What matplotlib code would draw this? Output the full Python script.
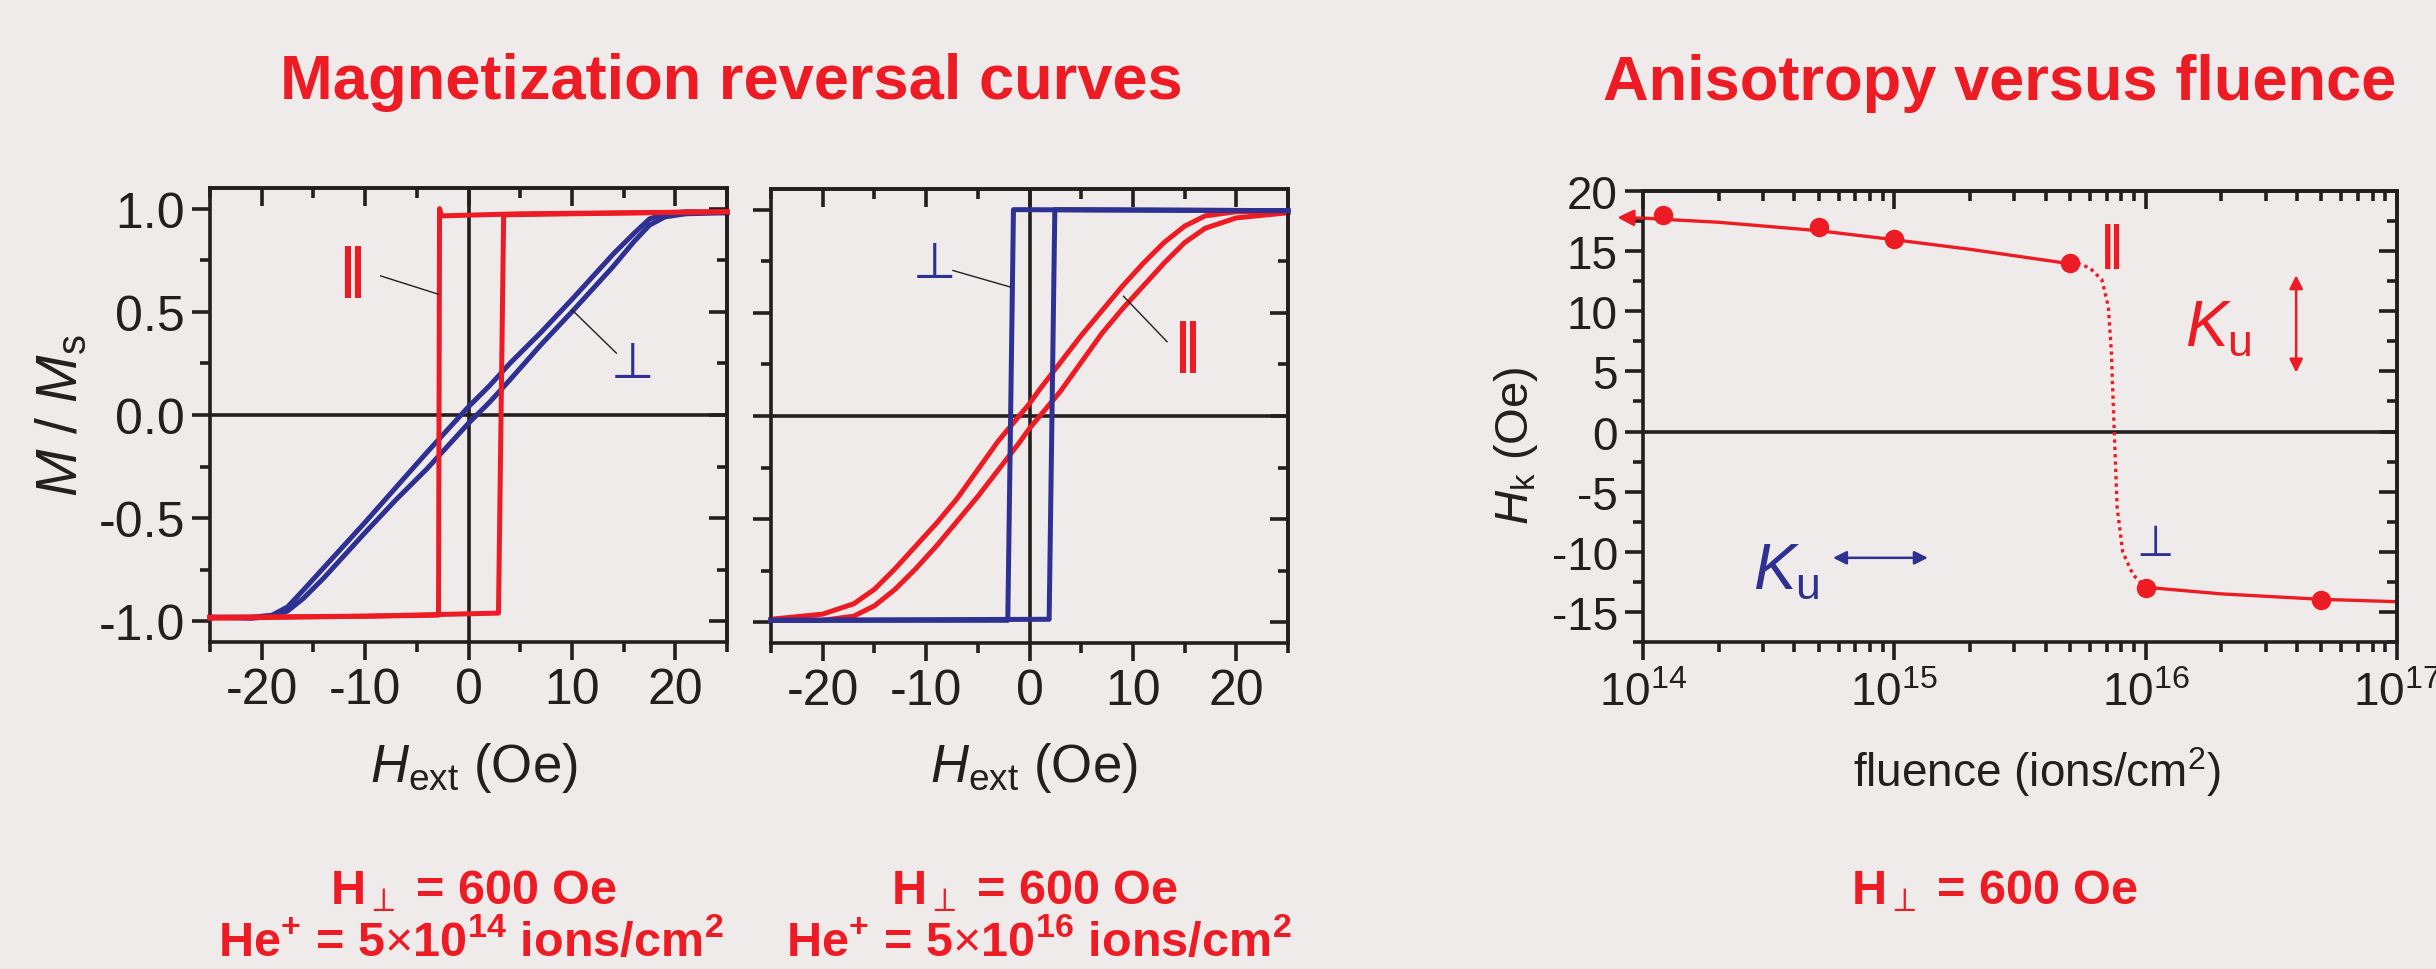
import matplotlib
matplotlib.use('Agg')
import matplotlib.pyplot as plt
from matplotlib import font_manager
from matplotlib.ticker import FixedLocator, LogLocator, NullFormatter

# pick the narrow face if it is installed
names = {f.name for f in font_manager.fontManager.ttflist}
narrow = 'Liberation Sans Narrow' if 'Liberation Sans Narrow' in names else 'Liberation Sans'

plt.rcParams['font.family'] = [narrow, 'DejaVu Sans']
plt.rcParams['mathtext.fontset'] = 'custom'
plt.rcParams['mathtext.rm'] = narrow
plt.rcParams['mathtext.it'] = narrow + ':italic'
plt.rcParams['mathtext.bf'] = narrow + ':bold'
plt.rcParams['axes.unicode_minus'] = False

BG = '#efebea'
RED = '#ed1c24'
BLUE = '#2e3192'
INK = '#231f20'

# --- panel 1: He+ = 5e14, perpendicular (blue) is the slanted loop
p1_perp_down_h = [25, 21, 19, 17.5, 16, 14, 12, 10, 7, 4, 2, 0, -2, -4, -7, -10, -12, -14, -16, -17.5, -19, -21, -25]
p1_perp_down_m = [0.98, 0.985, 0.975, 0.95, 0.88, 0.78, 0.67, 0.56, 0.40, 0.25, 0.14, 0.04, -0.07, -0.18, -0.35,
                  -0.52, -0.63, -0.74, -0.85, -0.93, -0.97, -0.98, -0.98]
p1_perp_up_h = [-25, -21, -19, -17.5, -16, -14, -12, -10, -7, -4, -2, 0, 2, 4, 7, 10, 12, 14, 16, 17.5, 19, 21, 25]
p1_perp_up_m = [-0.98, -0.985, -0.975, -0.95, -0.89, -0.79, -0.68, -0.57, -0.41, -0.26, -0.15, -0.04, 0.06, 0.17,
                0.34, 0.50, 0.61, 0.72, 0.84, 0.92, 0.96, 0.975, 0.98]
p1_par_down_h = [25, 5, -2.6, -2.8, -2.9, -10, -25]
p1_par_down_m = [0.985, 0.975, 0.965, 1.0, -0.97, -0.975, -0.98]
p1_par_up_h = [-25, -10, 2.9, 3.4, 10, 25]
p1_par_up_m = [-0.985, -0.975, -0.96, 0.97, 0.975, 0.985]

# --- panel 2: He+ = 5e16, parallel (red) is the slanted loop
p2_par_down_h = [25, 20, 17, 15, 13, 11, 9, 7, 5, 3, 1, 0, -1, -3, -5, -7, -9, -11, -13, -15, -17, -20, -25]
p2_par_down_m = [0.99, 0.99, 0.97, 0.92, 0.84, 0.74, 0.63, 0.51, 0.39, 0.26, 0.13, 0.06, 0.0, -0.12, -0.26,
                 -0.40, -0.52, -0.63, -0.74, -0.84, -0.91, -0.96, -0.985]
p2_par_up_h = [-25, -20, -17, -15, -13, -11, -9, -7, -5, -3, -1, 0, 1, 3, 5, 7, 9, 11, 13, 15, 17, 20, 25]
p2_par_up_m = [-0.99, -0.99, -0.97, -0.92, -0.84, -0.74, -0.63, -0.51, -0.39, -0.26, -0.13, -0.06, 0.0, 0.12,
               0.26, 0.40, 0.52, 0.63, 0.74, 0.84, 0.91, 0.96, 0.985]
p2_perp_down_h = [25, -1.55, -2.1, -25]
p2_perp_down_m = [0.995, 1.0, -0.99, -0.99]
p2_perp_up_h = [-25, 1.9, 2.45, 25]
p2_perp_up_m = [-0.99, -0.985, 1.0, 0.995]

# --- panel 3: anisotropy field vs fluence
fluence = [1.2e14, 5e14, 1e15, 5e15, 1e16, 5e16]
hk = [18, 17, 16, 14, -13, -14]
fit_a_x = [1e14, 1.2e14, 2e14, 5e14, 1e15, 2e15, 5e15]
fit_a_y = [17.75, 17.65, 17.4, 16.7, 15.95, 15.15, 13.95]
fit_b_x = [5e15, 5.5e15, 6.0e15, 6.7e15, 7.1e15, 7.3e15, 7.5e15, 7.7e15, 8.1e15, 8.9e15, 1e16]
fit_b_y = [14, 13.9, 13.6, 12.6, 10.4, 6.7, 0, -6.3, -10.0, -11.9, -13]
fit_c_x = [1e16, 2e16, 5e16, 1e17]
fit_c_y = [-12.95, -13.5, -13.95, -14.15]

W, H = 2436, 970
fig = plt.figure(figsize=(W / 100, H / 100), dpi=100, facecolor=BG)


def px_axes(l, t, r, b):
    return fig.add_axes([l / W, 1 - b / H, (r - l) / W, (b - t) / H])


def frame(ax, xmaj, xmin, ymaj, ymin, size, log=False):
    ax.set_facecolor(BG)
    for s in ax.spines.values():
        s.set_linewidth(2.6)
        s.set_color(INK)
    if not log:
        ax.xaxis.set_major_locator(FixedLocator(xmaj))
        ax.xaxis.set_minor_locator(FixedLocator(xmin))
    ax.yaxis.set_major_locator(FixedLocator(ymaj))
    ax.yaxis.set_minor_locator(FixedLocator(ymin))
    ax.tick_params(which='major', direction='out', length=13, width=2.6, color=INK,
                   labelsize=size, labelcolor=INK, pad=5)
    ax.tick_params(which='minor', direction='out', length=7, width=2.6, color=INK)
    top = ax.secondary_xaxis('top')
    right = ax.secondary_yaxis('right')
    for sec, axis in ((top, top.xaxis), (right, right.yaxis)):
        for s in sec.spines.values():
            s.set_linewidth(2.6)
            s.set_color(INK)
        sec.tick_params(which='major', direction='in', length=13, width=2.6, color=INK)
        sec.tick_params(which='minor', direction='in', length=7, width=2.6, color=INK)
        axis.set_major_formatter(NullFormatter())
        axis.set_minor_formatter(NullFormatter())
    if not log:
        top.xaxis.set_major_locator(FixedLocator(xmaj))
        top.xaxis.set_minor_locator(FixedLocator(xmin))
    else:
        top.xaxis.set_major_locator(LogLocator(base=10))
        top.xaxis.set_minor_locator(LogLocator(base=10, subs=range(2, 10)))
    right.yaxis.set_major_locator(FixedLocator(ymaj))
    right.yaxis.set_minor_locator(FixedLocator(ymin))


hmaj = [-20, -10, 0, 10, 20]
hmin = [-25, -15, -5, 5, 15, 25]
mmaj = [-1.0, -0.5, 0.0, 0.5, 1.0]
mmin = [-0.75, -0.25, 0.25, 0.75]

ax1 = px_axes(210, 189, 727, 643)
ax2 = px_axes(771, 190, 1288, 644)
ax3 = px_axes(1643, 192, 2397, 643)

for ax in (ax1, ax2):
    ax.set_xlim(-25, 25)
    ax.set_ylim(-1.1, 1.1)
    frame(ax, hmaj, hmin, mmaj, mmin, 36)
    ax.axhline(0, color=INK, lw=2.6, zorder=1)
    ax.axvline(0, color=INK, lw=2.6, zorder=1)
ax1.set_yticklabels(['-1.0', '-0.5', '0.0', '0.5', '1.0'])
ax2.set_yticklabels([])

LW = 3.6
# panel 1 curves (red drawn over blue)
ax1.plot(p1_perp_down_h, p1_perp_down_m, color=BLUE, lw=LW, zorder=2, clip_on=False)
ax1.plot(p1_perp_up_h, p1_perp_up_m, color=BLUE, lw=LW, zorder=2, clip_on=False)
ax1.plot(p1_par_down_h, p1_par_down_m, color=RED, lw=LW, zorder=3, clip_on=False)
ax1.plot(p1_par_up_h, p1_par_up_m, color=RED, lw=LW, zorder=3, clip_on=False)
ax1.plot([-8.5, -2.9], [0.674, 0.585], color=INK, lw=1, zorder=4)
ax1.plot([10.0, 14.3], [0.51, 0.30], color=INK, lw=1, zorder=4)
ax1.text(-11.3, 0.70, '\u2225', color=RED, fontsize=38, family='DejaVu Sans', fontweight='bold',
         ha='center', va='center')
ax1.text(15.9, 0.25, '\u22a5', color=BLUE, fontsize=36, family='DejaVu Sans', ha='center', va='center')

# panel 2 curves (blue drawn over red)
ax2.plot(p2_par_down_h, p2_par_down_m, color=RED, lw=LW, zorder=2, clip_on=False)
ax2.plot(p2_par_up_h, p2_par_up_m, color=RED, lw=LW, zorder=2, clip_on=False)
ax2.plot(p2_perp_down_h, p2_perp_down_m, color=BLUE, lw=LW, zorder=3, clip_on=False)
ax2.plot(p2_perp_up_h, p2_perp_up_m, color=BLUE, lw=LW, zorder=3, clip_on=False)
ax2.plot([-7.4, -1.85], [0.705, 0.625], color=INK, lw=1, zorder=4)
ax2.plot([9.1, 13.3], [0.58, 0.36], color=INK, lw=1, zorder=4)
ax2.text(-9.2, 0.74, '\u22a5', color=BLUE, fontsize=36, family='DejaVu Sans', ha='center', va='center')
ax2.text(15.2, 0.34, '\u2225', color=RED, fontsize=38, family='DejaVu Sans', fontweight='bold',
         ha='center', va='center')

# panel 3
ax3.set_xscale('log')
ax3.set_xlim(1e14, 1e17)
ax3.set_ylim(-17.5, 20)
frame(ax3, None, None, [-15, -10, -5, 0, 5, 10, 15, 20], [-17.5, -12.5, -7.5, -2.5, 2.5, 7.5, 12.5, 17.5],
      33, log=True)
ax3.xaxis.set_major_locator(LogLocator(base=10))
ax3.xaxis.set_minor_locator(LogLocator(base=10, subs=range(2, 10)))
ax3.xaxis.set_minor_formatter(NullFormatter())
ax3.tick_params(axis='x', which='major', pad=8)
ax3.axhline(0, color=INK, lw=2.6, zorder=1)
ax3.plot(fit_a_x, fit_a_y, color=RED, lw=2.4, zorder=2)
ax3.plot(fit_b_x, fit_b_y, color=RED, lw=2.4, ls=(0, (1, 1.2)), zorder=2)
ax3.plot(fit_c_x, fit_c_y, color=RED, lw=2.4, zorder=2)
ax3.plot(fluence, hk, 'o', color=RED, ms=13, zorder=3, clip_on=False)
ax3.annotate('', xy=(7.9e13, 17.8), xytext=(1.0e14, 17.75), annotation_clip=False,
             arrowprops=dict(arrowstyle='-|>', color=RED, lw=2.2, mutation_scale=24, shrinkA=0, shrinkB=0))
ax3.annotate('', xy=(3.97e16, 4.9), xytext=(3.97e16, 13.0),
             arrowprops=dict(arrowstyle='<|-|>', color=RED, lw=1.8, mutation_scale=20, shrinkA=0, shrinkB=0))
ax3.annotate('', xy=(5.7e14, -10.5), xytext=(1.36e15, -10.5),
             arrowprops=dict(arrowstyle='<|-|>', color=BLUE, lw=1.8, mutation_scale=20, shrinkA=0, shrinkB=0))
ax3.text(7.3e15, 15.4, '\u2225', color=RED, fontsize=33, family='DejaVu Sans', fontweight='bold',
         ha='center', va='center')
ax3.text(1.09e16, -9.3, '\u22a5', color=BLUE, fontsize=31, family='DejaVu Sans', ha='center', va='center')
ax3.text(1.95e16, 8.6, r'$\mathit{K}_{\mathrm{u}}$', color=RED, fontsize=46, ha='center', va='center')
ax3.text(3.7e14, -11.6, r'$\mathit{K}_{\mathrm{u}}$', color=BLUE, fontsize=46, ha='center', va='center')

# axis labels
fig.text(62 / W, 1 - 416 / H, r'$\mathit{M}$ / $\mathit{M}_{\mathrm{s}}$', rotation=90, fontsize=41,
         color=INK, ha='center', va='center')
fig.text(474 / W, 1 - 768 / H, r'$\mathit{H}_{\mathrm{ext}}$ (Oe)', fontsize=38, color=INK, ha='center', va='center')
fig.text(1034 / W, 1 - 768 / H, r'$\mathit{H}_{\mathrm{ext}}$ (Oe)', fontsize=38, color=INK, ha='center', va='center')
fig.text(1516 / W, 1 - 446 / H, r'$\mathit{H}_{\mathrm{k}}$ (Oe)', rotation=90, fontsize=34,
         color=INK, ha='center', va='center')
fig.text(2037 / W, 1 - 772 / H, r'fluence (ions/cm$^{2}$)', fontsize=33, color=INK, ha='center', va='center')

# titles
fig.text(731 / W, 1 - 99 / H, 'Magnetization reversal curves', fontsize=45.5, fontweight='bold',
         family='Liberation Sans', color=RED, ha='center', va='baseline')
fig.text(2000 / W, 1 - 100 / H, 'Anisotropy versus fluence', fontsize=45.5, fontweight='bold',
         family='Liberation Sans', color=RED, ha='center', va='baseline')

# conditions under the panels
hperp = r'H$_{\perp}$ = 600 Oe'
FS = 35
fig.text(474 / W, 1 - 904 / H, hperp, fontsize=FS, fontweight='bold', color=RED, ha='center', va='baseline')
fig.text(471 / W, 1 - 956 / H, r'He$^{\mathbf{+}}$ = 5$\times$10$^{\mathbf{14}}$ ions/cm$^{\mathbf{2}}$',
         fontsize=FS, fontweight='bold', color=RED, ha='center', va='baseline')
fig.text(1035 / W, 1 - 904 / H, hperp, fontsize=FS, fontweight='bold', color=RED, ha='center', va='baseline')
fig.text(1039 / W, 1 - 956 / H, r'He$^{\mathbf{+}}$ = 5$\times$10$^{\mathbf{16}}$ ions/cm$^{\mathbf{2}}$',
         fontsize=FS, fontweight='bold', color=RED, ha='center', va='baseline')
fig.text(1995 / W, 1 - 904 / H, hperp, fontsize=FS, fontweight='bold', color=RED, ha='center', va='baseline')

fig.savefig('out.png', dpi=100, facecolor=BG)
